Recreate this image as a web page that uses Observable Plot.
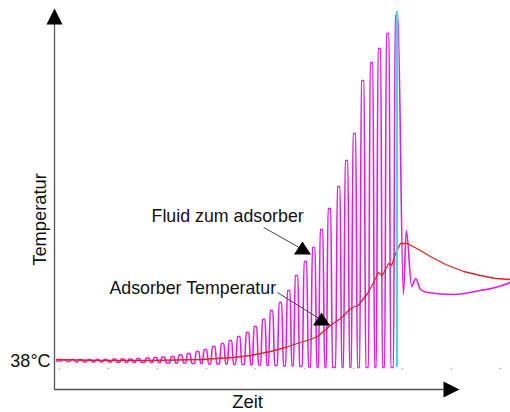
<!DOCTYPE html>
<html>
<head>
<meta charset="utf-8">
<script src="https://cdn.jsdelivr.net/npm/d3@7"></script>
<script src="https://cdn.jsdelivr.net/npm/@observablehq/plot@0.6"></script>
<style>
  html, body { margin: 0; padding: 0; background: #fff; }
  svg { display: block; }
</style>
</head>
<body>
<div id="chart"></div>
<script>
// ---------- data (time in arbitrary units, temperature in °C-like units) ----------
// Fluid zum adsorber: peak times, peak temperatures, troughs between successive peaks
const fluidStart = [0.4, 37.9];
const peakTime = [2.0, 3.7, 5.3, 7.1, 8.8, 10.4, 12.2, 13.9, 15.5, 17.1, 19.0, 20.6, 22.2, 24.1, 25.7, 27.4, 29.2, 30.8, 32.5, 34.3, 35.9, 37.6, 39.4, 41.0, 42.7, 44.3, 46.1, 47.8, 49.4, 51.2, 52.9, 54.5, 56.1, 58.0, 59.6, 61.2, 62.9, 64.7, 66.3, 68.0, 69.8];
const peakTemp = [38.1, 38.2, 38.2, 38.2, 38.2, 38.2, 38.3, 38.3, 38.3, 38.4, 38.5, 38.6, 38.7, 38.8, 39.1, 39.4, 39.8, 40.2, 40.8, 41.4, 42.0, 42.8, 43.6, 44.8, 46.2, 48.0, 49.6, 52.0, 55.0, 57.8, 60.6, 64.2, 68.4, 72.8, 78.0, 83.4, 94.0, 97.6, 100.4, 103.4, 107.0];
const troughTemp = [37.8, 37.7, 37.7, 37.7, 37.7, 37.7, 37.6, 37.6, 37.6, 37.6, 37.6, 37.6, 37.5, 37.5, 37.5, 37.4, 37.4, 37.3, 37.3, 37.3, 37.2, 37.2, 37.1, 37.1, 37.0, 37.0, 36.9, 36.9, 36.8, 36.7, 36.6, 36.6, 36.6, 36.6, 36.6, 36.6, 36.6, 36.6, 36.6, 36.6];
// Fluid after the switch-over
const tailTime = [71.2, 71.8, 72.9, 73.7, 74.7, 76.1, 81.4, 86.9, 90.0, 93.0];
const tailTemp = [51.2, 64.0, 52.8, 54.4, 52.2, 51.6, 51.2, 52.0, 52.6, 53.6];

// Adsorber Temperatur
const adsTime = [0.4, 9.4, 19.6, 29.8, 36.5, 40.0, 44.1, 47.1, 50.2, 52.2, 53.7, 55.1, 56.3, 58.4, 59.8, 60.8, 62.0, 63.9, 64.9, 66.1, 66.9, 68.2, 68.8, 69.6, 70.6, 72.0, 74.7, 76.7, 79.8, 83.5, 86.9, 90.0, 93.0];
const adsTemp = [38.2, 38.0, 38.0, 38.2, 38.6, 39.0, 39.8, 40.6, 41.6, 42.2, 42.8, 44.0, 45.0, 46.4, 47.8, 48.6, 49.0, 51.4, 53.2, 55.6, 55.0, 57.4, 57.0, 59.4, 61.4, 61.4, 60.0, 58.8, 57.2, 55.8, 55.0, 54.4, 54.2];

// switch-over marker (cyan)
const switchTime = 69.9;
const switchTemps = [36.6, 107.8];

// faint tick dots
const tickTime = [1, 11, 21, 31, 41, 51, 61, 71, 81, 91];
const tickTemp = 36.4;

// axes
const axisTime0 = 0;
const axisTemp0 = 32.2;
const yAxisEnd = 105.2, yArrowTip = 108.4;
const xAxisEnd = 79.8, xArrowTip = 82.65;

// labels
const baseLabel = "38°C";
const baseLabelPos = [-0.8, 37.78];
const yLabel = "Temperatur";
const yLabelPos = [-2.9, 66.2];
const xLabel = "Zeit";
const xLabelPos = [39.4, 29.7];

// annotations: text, text position, leader line start/end, triangle tip
const annText = ["Fluid zum adsorber", "Adsorber Temperatur"];
const annTextTime = [19.8, 11.2];
const annTextTemp = [66.8, 52.4];
const annLineFrom = [[42.7, 64.6], [45.5, 51.6]];
const annLineTo = [[52.1, 59.4], [56.3, 45.0]];
const annTipTime = [50.6, 54.5];
const annTipTemp = [61.8, 47.6];

// ---------- build fluid waveform from read peaks / troughs ----------
const fluid = [{t: fluidStart[0], T: fluidStart[1]}];
peakTime.forEach((tp, i) => {
  const before = i === 0 ? fluidStart[1] : troughTemp[i - 1];
  fluid.push({t: tp - 0.62, T: before});
  fluid.push({t: tp - 0.27, T: peakTemp[i]});
  fluid.push({t: tp + 0.27, T: peakTemp[i]});
  if (i < troughTemp.length) fluid.push({t: tp + 0.62, T: troughTemp[i]});
});
tailTime.forEach((t, i) => fluid.push({t, T: tailTemp[i]}));

const adsorber = adsTime.map((t, i) => ({t, T: adsTemp[i]}));

// ---------- custom arrow-head symbols (anchored at their tip) ----------
const tipUp = {draw(ctx, size) { const s = Math.sqrt(size); ctx.moveTo(0, 0); ctx.lineTo(s / 2, s); ctx.lineTo(-s / 2, s); ctx.closePath(); }};
const tipRight = {draw(ctx, size) { const s = Math.sqrt(size); ctx.moveTo(0, 0); ctx.lineTo(-s, s / 2); ctx.lineTo(-s, -s / 2); ctx.closePath(); }};
const tipUpFlat = {draw(ctx, size) { const s = Math.sqrt(size); ctx.moveTo(0, 0); ctx.lineTo(s / 2, 0.76 * s); ctx.lineTo(-s / 2, 0.76 * s); ctx.closePath(); }};

const font = "'Liberation Sans', Arial, Helvetica, sans-serif";
const axisColor = "#555";

const chart = Plot.plot({
  width: 510,
  height: 412,
  margin: 0,
  style: {background: "#fff", fontFamily: font, color: "#111"},
  x: {domain: [0, 93], range: [54, 54 + 93 * 4.9], axis: null},
  y: {domain: [28, 110], range: [410, 0], axis: null},
  marks: [
    Plot.dot(tickTime, {x: d => d, y: () => tickTemp, r: 0.8, fill: "#aaa", stroke: null}),
    Plot.line(fluid, {x: "t", y: "T", stroke: "#e01ee0", strokeWidth: 1.6, curve: "monotone-x"}),
    Plot.line(adsorber, {x: "t", y: "T", stroke: "#e0231c", strokeWidth: 1.3}),
    Plot.ruleX([switchTime], {y1: switchTemps[0], y2: switchTemps[1], stroke: "#3fdbe6", strokeWidth: 2}),
    // axes
    Plot.ruleX([axisTime0], {y1: axisTemp0, y2: yAxisEnd, stroke: axisColor, strokeWidth: 1.3}),
    Plot.ruleY([axisTemp0], {x1: axisTime0, x2: xAxisEnd, stroke: axisColor, strokeWidth: 1.3}),
    Plot.dot([0], {x: () => axisTime0, y: () => yArrowTip, symbol: tipUp, r: 9.03, fill: "#000", stroke: null}),
    Plot.dot([0], {x: () => xArrowTip, y: () => axisTemp0, symbol: tipRight, r: 9.03, fill: "#000", stroke: null}),
    // annotation leaders
    Plot.link(annText, {
      x1: (d, i) => annLineFrom[i][0], y1: (d, i) => annLineFrom[i][1],
      x2: (d, i) => annLineTo[i][0], y2: (d, i) => annLineTo[i][1],
      stroke: "#444", strokeWidth: 1
    }),
    Plot.dot(annText, {x: (d, i) => annTipTime[i], y: (d, i) => annTipTemp[i], symbol: tipUpFlat, r: 9.6, fill: "#000", stroke: null}),
    Plot.text(annText, {x: (d, i) => annTextTime[i], y: (d, i) => annTextTemp[i], text: d => d, textAnchor: "start", fontSize: 17.8, fill: "#111"}),
    // labels
    Plot.text([baseLabel], {x: () => baseLabelPos[0], y: () => baseLabelPos[1], text: d => d, textAnchor: "end", fontSize: 18, fill: "#111"}),
    Plot.text([yLabel], {x: () => yLabelPos[0], y: () => yLabelPos[1], text: d => d, rotate: -90, fontSize: 18.3, fill: "#111"}),
    Plot.text([xLabel], {x: () => xLabelPos[0], y: () => xLabelPos[1], text: d => d, fontSize: 18.5, fill: "#111"})
  ]
});
document.getElementById("chart").appendChild(chart);
</script>
</body>
</html>
